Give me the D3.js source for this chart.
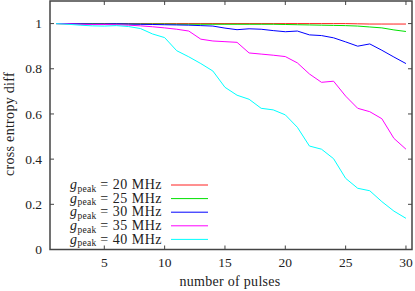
<!DOCTYPE html>
<html lang="en">
<head>
    <meta charset="UTF-8">
    <title>Cross entropy diff vs number of pulses</title>
    <script src="https://d3js.org/d3.v7.min.js"></script>
    <style>
        body { margin: 0; background: #fff; }
        text { font-family: "Liberation Serif", "DejaVu Serif", serif; fill: #222; }
        .border { fill: none; stroke: #444; stroke-width: 1.5px; }
        .tick { stroke: #444; stroke-width: 1px; }
        .series { fill: none; stroke-width: 1px; }
    </style>
</head>
<body>
    <div id="chart"></div>

    <script>
        // data
        const pulses = d3.range(1, 31);
        const g20 = [1, 1, 1, 1, 1, 1, 1, 1, 1, 1, 1, 1, 1, 1, 1,
                     1, 1, 1, 1, 1, 1, 1, 1, 1, 1, 0.999, 0.998, 0.998, 0.998, 0.998];
        const g25 = [1, 0.999, 0.999, 0.999, 0.998, 0.998, 0.998, 0.998, 0.998, 0.998, 0.997, 0.997, 0.997, 0.997, 0.997,
                     0.997, 0.997, 0.997, 0.997, 0.996, 0.995, 0.994, 0.993, 0.992, 0.991, 0.989, 0.985, 0.981, 0.972, 0.965];
        const g30 = [1, 1, 0.999, 0.998, 0.998, 0.999, 0.998, 0.997, 0.996, 0.995, 0.994, 0.993, 0.991, 0.989, 0.98,
                     0.973, 0.977, 0.975, 0.969, 0.964, 0.967, 0.95, 0.947, 0.937, 0.919, 0.9, 0.91, 0.882, 0.852, 0.823];
        const g35 = [1, 0.999, 0.997, 0.996, 0.996, 0.995, 0.993, 0.99, 0.986, 0.981, 0.975, 0.967, 0.931, 0.923, 0.92,
                     0.917, 0.87, 0.865, 0.86, 0.854, 0.826, 0.777, 0.74, 0.745, 0.679, 0.625, 0.61, 0.579, 0.492, 0.444];
        const g40 = [1, 0.997, 0.993, 0.99, 0.989, 0.991, 0.987, 0.978, 0.954, 0.938, 0.88, 0.853, 0.823, 0.79, 0.718,
                     0.683, 0.665, 0.625, 0.618, 0.596, 0.541, 0.458, 0.444, 0.402, 0.315, 0.271, 0.26, 0.212, 0.17, 0.138];
        const labels = ["20", "25", "30", "35", "40"];
        const colors = ["#ff2020", "#00e000", "#0000ff", "#ff00ff", "#00ffff"];
        const xTicks = [5, 10, 15, 20, 25, 30];
        const yTicks = [0, 0.2, 0.4, 0.6, 0.8, 1];

        const series = [g20, g25, g30, g35, g40];

        const width = 415, height = 291;
        const margin = {top: 1, right: 3, bottom: 41.5, left: 50};

        const svg = d3.select("#chart").append("svg")
            .attr("width", width)
            .attr("height", height);

        const x = d3.scaleLinear().domain([0.5, 30.5]).range([margin.left, width - margin.right]);
        const y = d3.scaleLinear().domain([0, 1.1]).range([height - margin.bottom, margin.top]);

        // ticks on all four sides, pointing inward (gnuplot style)
        const tickLen = 4;
        xTicks.forEach(function(t) {
            svg.append("line").attr("class", "tick")
                .attr("x1", x(t)).attr("x2", x(t))
                .attr("y1", y.range()[0]).attr("y2", y.range()[0] - tickLen);
            svg.append("line").attr("class", "tick")
                .attr("x1", x(t)).attr("x2", x(t))
                .attr("y1", y.range()[1]).attr("y2", y.range()[1] + tickLen);
            svg.append("text")
                .attr("x", x(t)).attr("y", 267)
                .attr("text-anchor", "middle")
                .style("font-size", "13.5px")
                .text(t);
        });
        yTicks.forEach(function(t) {
            svg.append("line").attr("class", "tick")
                .attr("x1", x.range()[0]).attr("x2", x.range()[0] + tickLen)
                .attr("y1", y(t)).attr("y2", y(t));
            svg.append("line").attr("class", "tick")
                .attr("x1", x.range()[1]).attr("x2", x.range()[1] - tickLen)
                .attr("y1", y(t)).attr("y2", y(t));
            svg.append("text")
                .attr("x", 42).attr("y", y(t))
                .attr("dy", "0.35em")
                .attr("text-anchor", "end")
                .style("font-size", "13.5px")
                .text(t);
        });

        // the curves
        const line = d3.line()
            .x(function(d, i) { return x(pulses[i]); })
            .y(function(d) { return y(d); });

        series.forEach(function(s, k) {
            svg.append("path")
                .datum(s)
                .attr("class", "series")
                .attr("stroke", colors[k])
                .attr("d", line);
        });

        // border
        svg.append("rect").attr("class", "border")
            .attr("x", x.range()[0]).attr("y", y.range()[1])
            .attr("width", x.range()[1] - x.range()[0])
            .attr("height", y.range()[0] - y.range()[1]);

        // legend
        labels.forEach(function(l, k) {
            const ly = 185 + k * 13.6;
            const t = svg.append("text")
                .attr("x", 162).attr("y", ly)
                .attr("dy", "0.3em")
                .attr("text-anchor", "end")
                .style("font-size", "14px")
                .style("letter-spacing", "0.5px");
            t.append("tspan").style("font-style", "italic").text("g");
            t.append("tspan").attr("dy", "2.5").style("font-size", "9.5px").style("letter-spacing", "0.2px").text("peak");
            t.append("tspan").attr("dy", "-2.5").text(" = " + l + " MHz");
            svg.append("line")
                .attr("x1", 171).attr("x2", 208)
                .attr("y1", ly).attr("y2", ly)
                .attr("stroke", colors[k])
                .attr("stroke-width", 1);
        });

        // axis titles
        svg.append("text")
            .attr("x", 230).attr("y", 286)
            .attr("text-anchor", "middle")
            .style("font-size", "14px")
            .style("letter-spacing", "0.3px")
            .text("number of pulses");
        svg.append("text")
            .attr("transform", "translate(14," + 124 + ") rotate(-90)")
            .attr("text-anchor", "middle")
            .style("font-size", "14px")
            .style("letter-spacing", "0.3px")
            .text("cross entropy diff");
    </script>
</body>
</html>
